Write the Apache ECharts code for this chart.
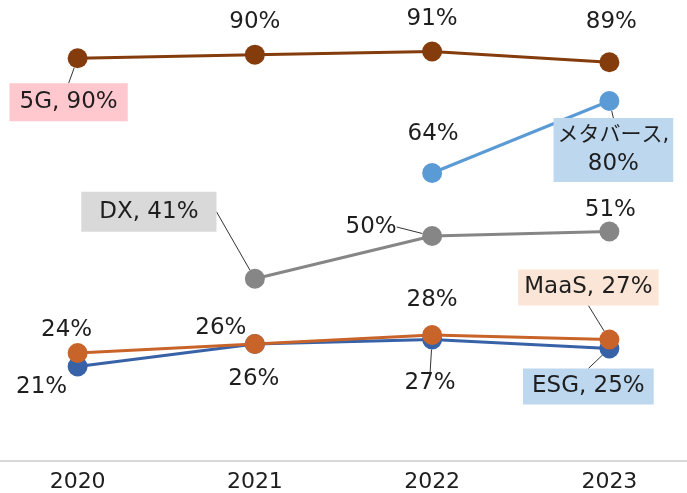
<!DOCTYPE html>
<html>
<head>
<meta charset="utf-8">
<script src="https://cdn.jsdelivr.net/npm/echarts@6/dist/echarts.min.js"></script>
<style>
  html, body { margin: 0; padding: 0; background: #fff; overflow: hidden; }
  #wrap { width: 687px; height: 493px; overflow: hidden; position: relative; }
  #chart { width: 709px; height: 493px; position: absolute; left: -11px; top: 0; }
</style>
</head>
<body>
<div id="wrap"><div id="chart"></div></div>
<script>
// 年
const years = ['2020', '2021', '2022', '2023'];

// 各キーワードの割合(%)
const g5 = [89.5, 90.3, 91, 88.6];
const metaverse = [null, null, 64, 80];
const dx = [null, 40.5, 50, 51];
const maas = [24, 26, 28, 27];
const esg = [21, 26, 27, 25];

// ラベル位置 (点からのずれ)
const labelOffsets = {
  ESG: [[-36, 21], [-1, 35], [-2, 44], [-21, 38]],
  MaaS: [[-11, -23], [-34, -16], [0, -35], [-21, -52]],
  DX: [null, [-106, -67], [-61, -9], [1, -21]],
  'メタバース': [null, null, [1, -39], [4, 49]],
  '5G': [[-9, 44], [0, -33], [0, -32], [2, -40]]
};

// 引き出し線 / 名前付きラベル
const leaderIdx = {
  ESG: [2, 3], MaaS: [3], DX: [1, 2], 'メタバース': [3], '5G': [0]
};
const namedIdx = {
  ESG: 3, MaaS: 3, DX: 1, 'メタバース': 3, '5G': 0
};
const boxColors = {
  ESG: '#bdd7ee', MaaS: '#fbe5d6', DX: '#d9d9d9', 'メタバース': '#bdd7ee', '5G': '#ffc7ce'
};
const boxPadding = {
  ESG: [4, 9], MaaS: [4, 6], DX: [6, 18], 'メタバース': [4, 4], '5G': [5, 10]
};
const lineColors = {
  ESG: '#3862a8', MaaS: '#c8642a', DX: '#868686', 'メタバース': '#5b9bd5', '5G': '#843c0c'
};

const FONT = '"DejaVu Sans", "Noto Sans CJK JP", sans-serif';

function buildSeries(name, values, sIdx) {
  const data = values.map(function (v, i) {
    if (v === null) return null;
    const item = {
      value: v,
      labelLine: {
        show: leaderIdx[name].indexOf(i) >= 0,
        lineStyle: {color: '#333', width: 1}
      }
    };
    if (namedIdx[name] === i) {
      const text = name === 'メタバース'
        ? '{cjk|' + name + ',}\n' + Math.round(v) + '%'
        : name + ', ' + Math.round(v) + '%';
      item.label = {
        formatter: text,
        backgroundColor: boxColors[name],
        padding: boxPadding[name],
        lineHeight: 28,
        rich: {
          cjk: {fontSize: 21, lineHeight: 28, color: '#1e1e1e', fontFamily: FONT}
        }
      };
    }
    return item;
  });
  return {
    name: name,
    type: 'line',
    data: data,
    symbol: 'circle',
    symbolSize: 20,
    lineStyle: {color: lineColors[name], width: 3},
    itemStyle: {color: lineColors[name]},
    z: 2 + sIdx,
    label: {
      show: true,
      position: 'inside',
      color: '#1e1e1e',
      fontSize: 23,
      fontFamily: FONT,
      align: 'center',
      formatter: function (p) { return Math.round(p.value) + '%'; }
    },
    labelLayout: function (params) {
      const o = labelOffsets[name][params.dataIndex] || [0, 0];
      return {dx: o[0], dy: o[1]};
    }
  };
}

const chart = echarts.init(document.getElementById('chart'), null, {renderer: 'canvas'});
chart.setOption({
  animation: false,
  backgroundColor: '#fff',
  grid: {left: 0, right: 0, top: 11, bottom: 32, containLabel: false},
  xAxis: {
    type: 'category',
    data: years,
    boundaryGap: true,
    axisLine: {lineStyle: {color: '#d9d9d9', width: 2}},
    axisTick: {show: false},
    axisLabel: {color: '#1e1e1e', fontSize: 22, fontFamily: FONT, margin: 10}
  },
  yAxis: {
    type: 'value',
    min: 0,
    max: 100,
    show: false,
    splitLine: {show: false}
  },
  series: [
    buildSeries('ESG', esg, 0),
    buildSeries('MaaS', maas, 1),
    buildSeries('DX', dx, 2),
    buildSeries('メタバース', metaverse, 3),
    buildSeries('5G', g5, 4)
  ]
});
</script>
</body>
</html>
